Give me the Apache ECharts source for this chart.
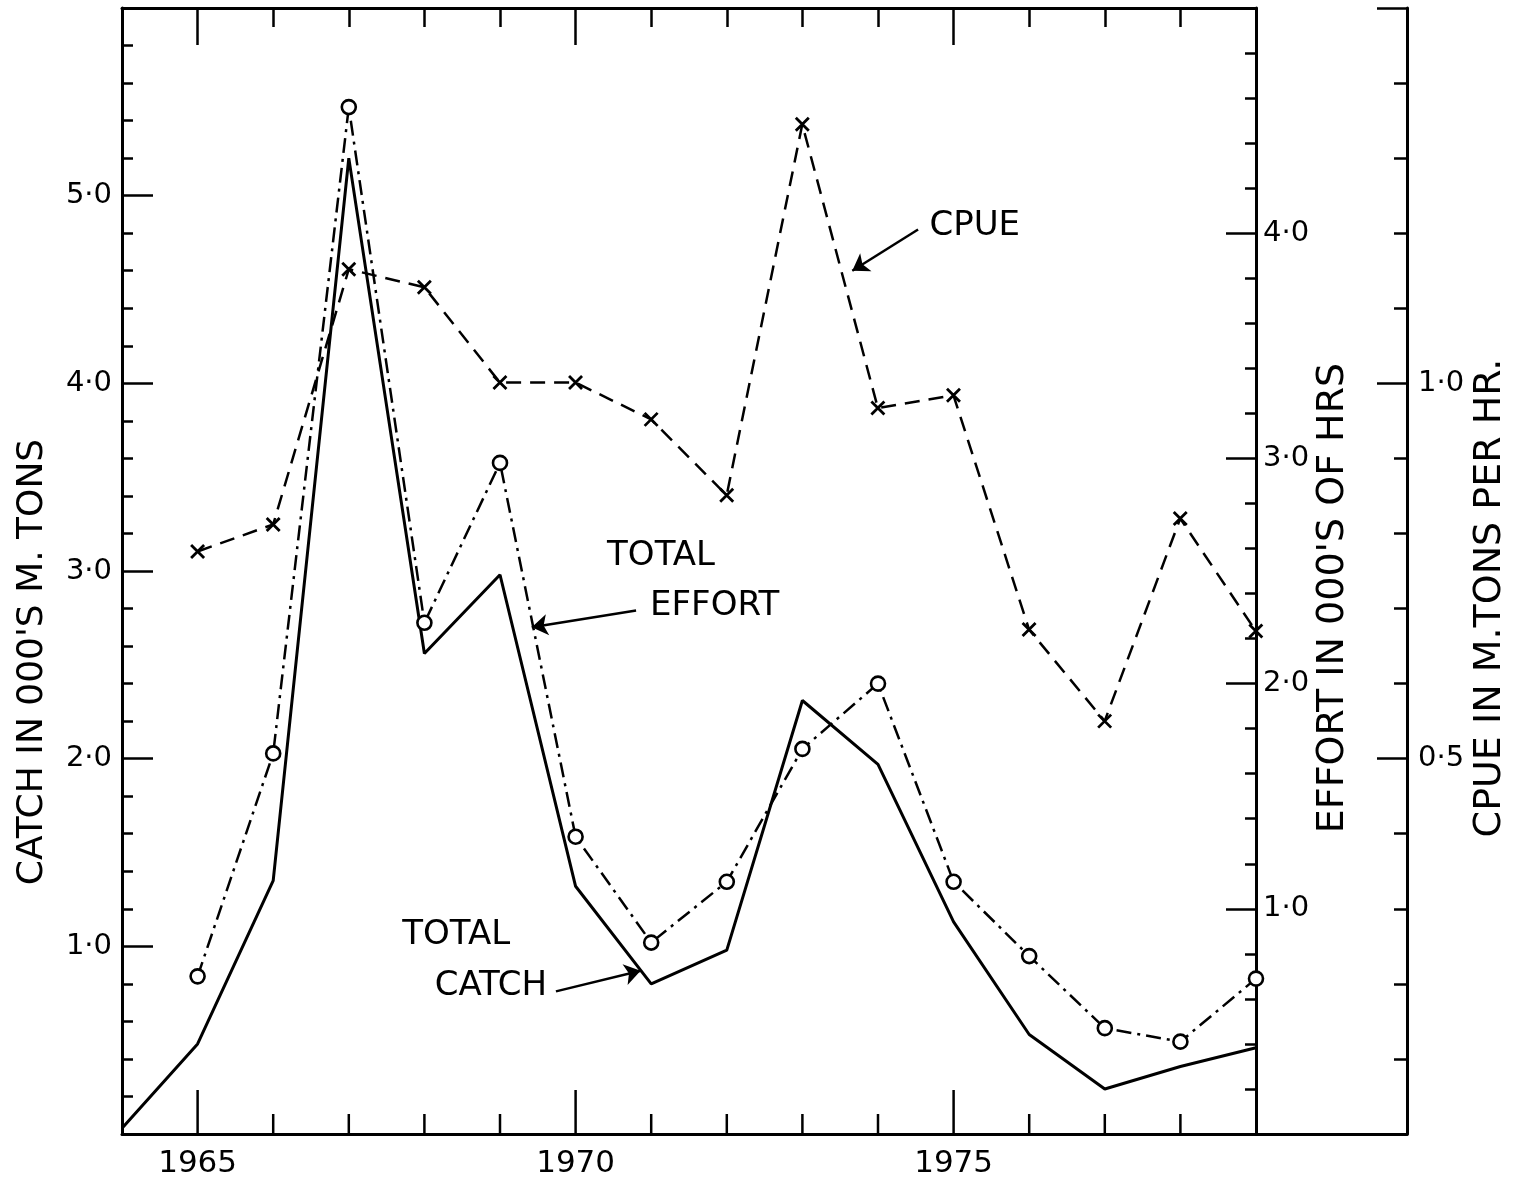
<!DOCTYPE html>
<html>
<head>
<meta charset="utf-8">
<title>Catch, effort and CPUE 1964–1979</title>
<script src="https://cdn.jsdelivr.net/npm/echarts@6/dist/echarts.min.js"></script>
<style>
  html, body { margin: 0; padding: 0; background: #fff; }
  #chart { width: 1514px; height: 1181px; }
</style>
</head>
<body>
<div id="chart"></div>
<script>
// Fishing seasons
const years = [1964, 1965, 1966, 1967, 1968, 1969, 1970, 1971, 1972, 1973, 1974, 1975, 1976, 1977, 1978, 1979];
// Total catch, thousands of metric tons
const catchValues = [0.03, 0.48, 1.35, 5.20, 2.56, 2.98, 1.32, 0.80, 0.98, 2.31, 1.97, 1.13, 0.53, 0.24, 0.36, 0.46];
// Total effort, thousands of hours
const effortValues = [null, 0.70, 1.69, 4.56, 2.27, 2.98, 1.32, 0.85, 1.12, 1.71, 2.00, 1.12, 0.79, 0.47, 0.41, 0.69];
// Catch per unit effort, metric tons per hour
const cpueValues = [null, 0.776, 0.812, 1.152, 1.128, 1.001, 1.001, 0.952, 0.851, 1.345, 0.967, 0.984, 0.672, 0.55, 0.82, 0.67];

// Year ticks along the bottom edge, and the labelled (long-tick) years
const yearTicks = [1965, 1966, 1967, 1968, 1969, 1970, 1971, 1972, 1973, 1974, 1975, 1976, 1977, 1978];
const yearLabels = [1965, 1970, 1975];

const FONT = 'DejaVu Sans';
const INK = '#000';

const pairs = (vals) => years.map((y, i) => [y, vals[i]]).filter(p => p[1] !== null);
const dotted = (v) => v.toFixed(1).replace('.', '\u00B7');

const chart = echarts.init(document.getElementById('chart'), null, { renderer: 'canvas' });

const tickStyle = () => ({ color: INK, width: 2.5 });
const lineAxis = () => ({ show: true, onZero: false, lineStyle: { color: INK, width: 3 } });
const noLine = () => ({ show: false, onZero: false });

// Annotation arrows (catch-axis units)
const arrows = [
  [{ coord: [1974.53, 4.82] }, { coord: [1973.66, 4.60] }],
  [{ coord: [1970.80, 2.79] }, { coord: [1969.42, 2.70] }],
  [{ coord: [1969.74, 0.76] }, { coord: [1970.86, 0.87] }]
];

// Axis titles
const titles = [
  { id: 'title-catch', x: 33, y: 662, size: 36, text: "CATCH IN 000'S M. TONS" },
  { id: 'title-effort', x: 1333, y: 598, size: 38, text: "EFFORT IN 000'S OF HRS" },
  { id: 'title-cpue', x: 1490, y: 598, size: 38, text: 'CPUE IN M.TONS PER HR.' }
];
const titleGraphics = titles.map((t) => ({
  type: 'text', id: t.id, x: t.x, y: t.y, rotation: Math.PI / 2, z: 50,
  style: { text: t.text, fill: INK, font: t.size + 'px "DejaVu Sans"', textAlign: 'center', textVerticalAlign: 'middle' }
}));

// year axis spanning 1964–1979
function yearAxis(position, tick, extra) {
  return Object.assign({
    gridIndex: 1, type: 'value', position: position, min: 1964, max: 1979, interval: 1,
    axisLine: noLine(),
    axisTick: Object.assign({ show: true, inside: true, lineStyle: tickStyle() }, tick),
    axisLabel: { show: false },
    splitLine: { show: false }
  }, extra || {});
}

const option = {
  backgroundColor: '#fff',
  animation: false,
  grid: [
    // wide grid: bottom axis runs out to the CPUE scale
    { left: 122, right: 107, top: 8, bottom: 47 },
    // framed plot area 1964–1979
    { left: 122, right: 258, top: 8, bottom: 47 }
  ],
  xAxis: [
    {
      gridIndex: 0, type: 'value', position: 'bottom', min: 1964, max: 1981, interval: 1,
      axisLine: lineAxis(),
      axisTick: { show: false },
      axisLabel: { show: false },
      splitLine: { show: false }
    },
    yearAxis('bottom', { show: false }, {
      axisLabel: {
        show: true, margin: 14, color: INK, fontFamily: FONT, fontSize: 31,
        formatter: (v) => (yearLabels.indexOf(v) >= 0 ? String(v) : '')
      }
    }),
    yearAxis('top', { length: 19 }, { axisLine: lineAxis() }),
    yearAxis('top', { length: 37, customValues: yearLabels })
  ],
  yAxis: [
    {
      // catch
      gridIndex: 1, type: 'value', position: 'left', min: 0, max: 6, interval: 1,
      axisLine: lineAxis(),
      axisTick: { show: true, inside: true, length: 31, lineStyle: tickStyle() },
      minorTick: { show: true, splitNumber: 5, length: 11, lineStyle: tickStyle() },
      axisLabel: {
        show: true, showMinLabel: false, showMaxLabel: false, margin: 10,
        color: INK, fontFamily: FONT, fontSize: 29, formatter: dotted
      },
      splitLine: { show: false }
    },
    {
      // effort
      gridIndex: 1, type: 'value', position: 'right', min: 0, max: 5, interval: 1,
      axisLine: lineAxis(),
      axisTick: { show: true, inside: true, length: 30, lineStyle: tickStyle() },
      minorTick: { show: true, splitNumber: 5, length: 11, lineStyle: tickStyle() },
      axisLabel: {
        show: true, showMinLabel: false, showMaxLabel: false, margin: 7,
        color: INK, fontFamily: FONT, fontSize: 29, formatter: dotted
      },
      splitLine: { show: false }
    },
    {
      // CPUE
      gridIndex: 0, type: 'value', position: 'right', min: 0, max: 1.5, interval: 0.5,
      axisLine: lineAxis(),
      axisTick: { show: true, inside: true, length: 30, lineStyle: tickStyle() },
      minorTick: { show: true, splitNumber: 5, length: 13, lineStyle: tickStyle() },
      axisLabel: {
        show: true, showMinLabel: false, showMaxLabel: false, margin: 11,
        color: INK, fontFamily: FONT, fontSize: 29, formatter: dotted
      },
      splitLine: { show: false }
    }
  ],
  series: [
    {
      name: 'TOTAL CATCH', type: 'line', xAxisIndex: 1, yAxisIndex: 0,
      data: pairs(catchValues), showSymbol: false, symbol: 'none', clip: false,
      lineStyle: { color: INK, width: 3 },
      markLine: {
        silent: true, animation: false, symbol: ['none', 'arrow'], symbolSize: 16, precision: 3,
        label: { show: false },
        lineStyle: { color: INK, width: 2.5, type: 'solid' },
        data: arrows
      },
      markPoint: {
        silent: true, animation: false, symbol: 'circle', symbolSize: 0,
        label: { show: true, position: 'inside', color: INK, fontFamily: FONT, fontSize: 34, formatter: (p) => p.name },
        data: [
          { name: 'CPUE', coord: [1975.28, 4.84] },
          { name: 'TOTAL', coord: [1971.13, 3.08] },
          { name: 'EFFORT', coord: [1971.84, 2.81] },
          { name: 'TOTAL', coord: [1968.42, 1.06] },
          { name: 'CATCH', coord: [1968.88, 0.79] }
        ]
      },
      z: 3
    },
    {
      name: 'CPUE', type: 'line', xAxisIndex: 0, yAxisIndex: 2,
      data: pairs(cpueValues), clip: false,
      symbol: 'path://M0,0L10,10M10,0L0,10', symbolSize: 13, showSymbol: true,
      itemStyle: { color: 'rgba(0,0,0,0)', borderColor: INK, borderWidth: 2.8 },
      lineStyle: { color: INK, width: 2.5, type: [15, 9] },
      z: 4
    },
    {
      name: 'TOTAL EFFORT', type: 'line', xAxisIndex: 1, yAxisIndex: 1,
      data: pairs(effortValues), clip: false,
      symbol: 'circle', symbolSize: 14, showSymbol: true,
      itemStyle: { color: '#fff', borderColor: INK, borderWidth: 2.6 },
      lineStyle: { color: INK, width: 2.5, type: [15, 6, 3, 6] },
      z: 5
    }
  ],
  graphic: titleGraphics
};

chart.setOption(option);

// Bottom-edge year ticks: placed through the year scale, rising from the bottom edge
const SHORT_TICK_PX = 20, LONG_TICK_PX = 44;
const bottomTickGraphics = yearTicks.map((yr) => {
  const p = chart.convertToPixel({ xAxisIndex: 1, yAxisIndex: 0 }, [yr, 0]);
  const len = yearLabels.indexOf(yr) >= 0 ? LONG_TICK_PX : SHORT_TICK_PX;
  return {
    type: 'line', id: 'btick-' + yr, z: 100, silent: true,
    shape: { x1: p[0], y1: p[1], x2: p[0], y2: p[1] - len },
    style: { stroke: INK, lineWidth: 2.5 }
  };
});

chart.setOption({ graphic: titleGraphics.concat(bottomTickGraphics) });
</script>
</body>
</html>
